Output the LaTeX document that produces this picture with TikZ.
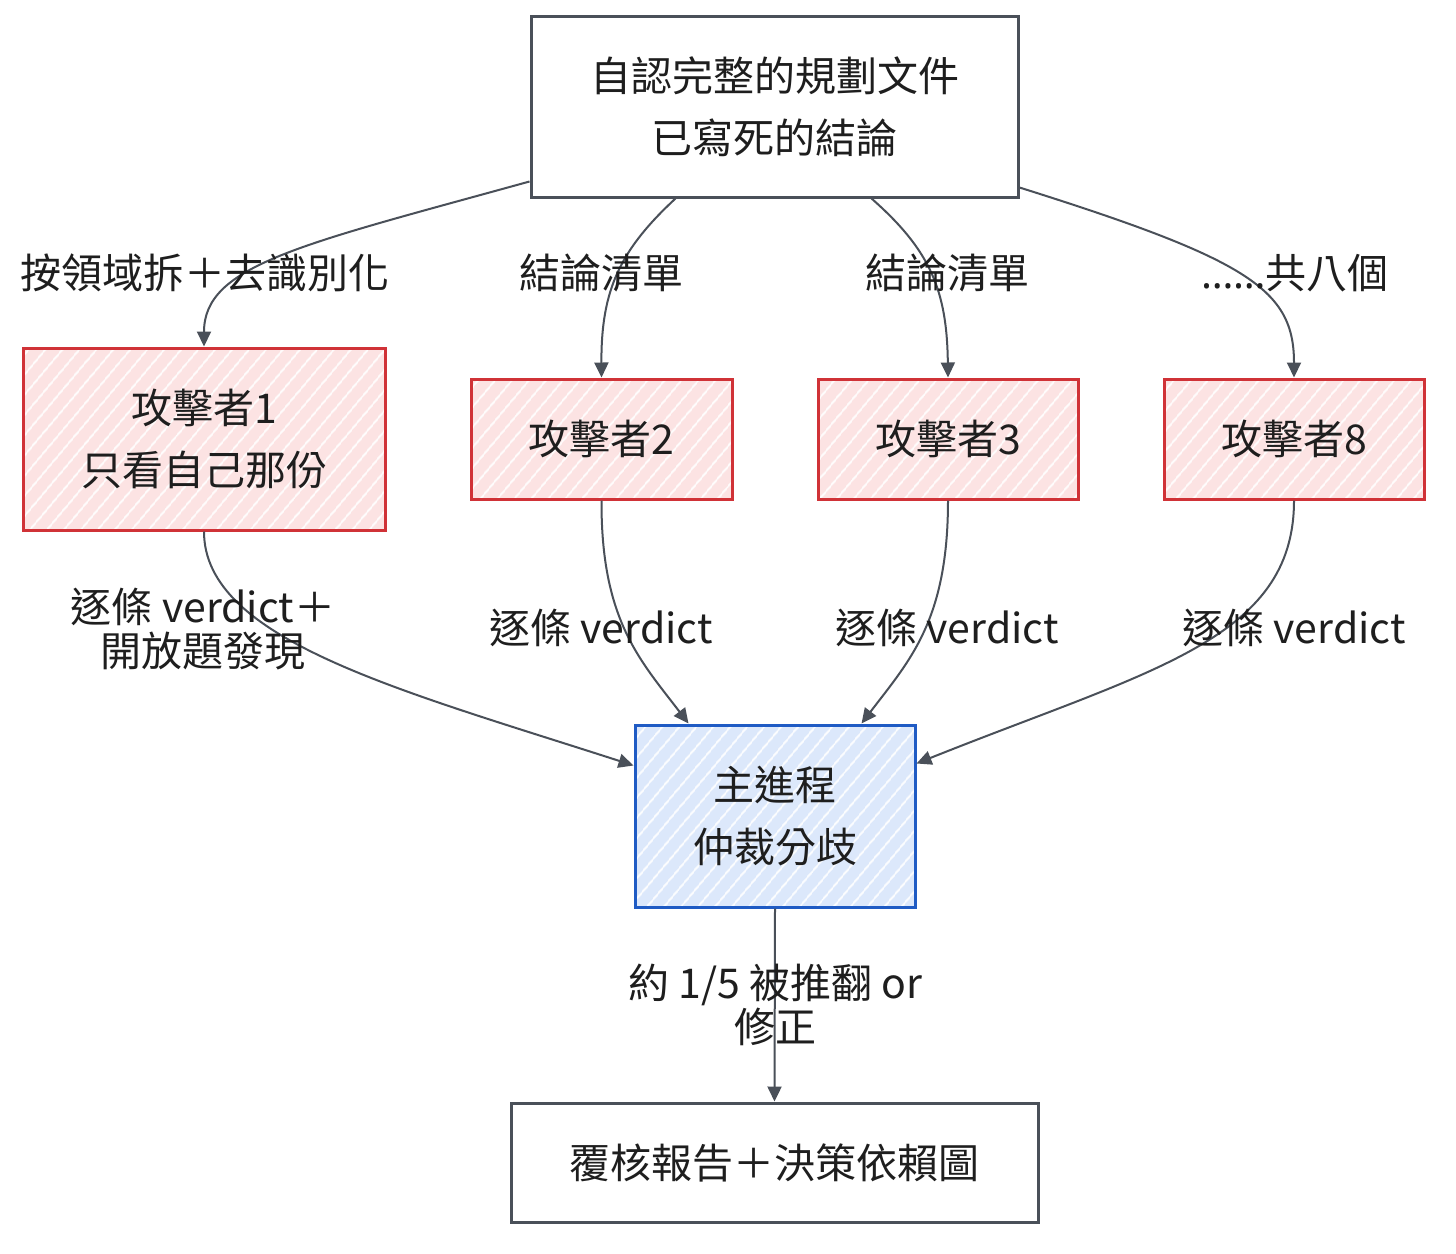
\documentclass[tikz,border=0pt]{standalone}
\usepackage{fontspec}
\setmainfont{Noto Sans CJK TC}
\newfontfamily\latfont{Noto Sans}
\usetikzlibrary{arrows.meta,patterns.meta}
\definecolor{ink}{HTML}{1E1E1E}
\definecolor{edgec}{HTML}{4A5059}
\definecolor{redb}{HTML}{D03237}
\definecolor{redf}{HTML}{FCE3E3}
\definecolor{blueb}{HTML}{1F5BC4}
\definecolor{bluef}{HTML}{DCE8FB}
\tikzset{
  base/.style={draw, line width=1.5pt, align=center, text=ink, font=\fontsize{20.5}{31}\selectfont, inner sep=0pt},
  plainbox/.style={base, draw=edgec, fill=white},
  attbox/.style={base, draw=redb, preaction={fill=redf}, preaction={pattern={Lines[angle=50,distance=6.5pt,line width=0.8pt]}, pattern color=white}},
  mainbox/.style={base, draw=blueb, preaction={fill=bluef}, preaction={pattern={Lines[angle=50,distance=6.5pt,line width=0.8pt]}, pattern color=white}},
  conn/.style={draw=edgec, line width=1pt, -{Triangle[length=7.5pt,width=7pt]}},
  lbl/.style={text=ink, align=center, font=\fontsize{20.5}{22}\selectfont, inner sep=0pt}
}
\begin{document}
\begin{tikzpicture}[x=0.5pt,y=-0.5pt]
\useasboundingbox[fill=white] (0,0) rectangle (1456,1253);
% nodes
\node[plainbox, minimum width=243.5pt, minimum height=90.5pt] (top) at (774.5,106.5) {自認完整的規劃文件\\已寫死的結論};
\node[attbox, minimum width=181pt, minimum height=91pt] (a1) at (204,439) {攻擊者1\\只看自己那份};
\node[attbox, minimum width=130.5pt, minimum height=60pt] (a2) at (601.5,439) {攻擊者2};
\node[attbox, minimum width=130pt, minimum height=60pt] (a3) at (948,439) {攻擊者3};
\node[attbox, minimum width=130pt, minimum height=60pt] (a8) at (1294,439) {攻擊者8};
\node[mainbox, minimum width=140pt, minimum height=91pt] (main) at (775,816) {主進程\\仲裁分歧};
\node[plainbox, minimum width=263.5pt, minimum height=59.5pt] (bot) at (774.5,1162.5) {覆核報告＋決策依賴圖};
% connector end coordinates
\coordinate (t1) at ([yshift=8.5pt]top.south west);
\coordinate (t2) at ([xshift=73pt]top.south west);
\coordinate (t3) at ([xshift=-74pt]top.south east);
\coordinate (t4) at ([yshift=5.5pt]top.south east);
\coordinate (m1) at ([yshift=-21pt]main.north west);
\coordinate (m2) at ([xshift=27.5pt]main.north west);
\coordinate (m3) at ([xshift=-27.5pt]main.north east);
\coordinate (m4) at ([yshift=-20pt]main.north east);
% connectors
\draw[conn] (t1) .. controls (300,245) and (204,265) .. (a1.north);
\draw[conn] (t2) .. controls (620,250) and (601,290) .. (a2.north);
\draw[conn] (t3) .. controls (930,250) and (947,290) .. (a3.north);
\draw[conn] (t4) .. controls (1250,260) and (1294,290) .. (a8.north);
\draw[conn] (a1.south) .. controls (204,640) and (400,690) .. (m1);
\draw[conn] (a2.south) .. controls (601,620) and (640,660) .. (m2);
\draw[conn] (a3.south) .. controls (948,620) and (910,660) .. (m3);
\draw[conn] (a8.south) .. controls (1294,640) and (1150,670) .. (m4);
\draw[conn] (main.south) -- (bot.north);
% labels
\node[lbl] (l1) at (205,273) {按領域拆＋去識別化};
\node[lbl] (l2) at (601,273) {結論清單};
\node[lbl] (l3) at (947,273) {結論清單};
\node[lbl] (l4) at (1295,273) {{\latfont ……}共八個};
\node[lbl] (l5) at (203,629) {逐條 verdict＋\\開放題發現};
\node[lbl] (l6) at (601,628) {逐條 verdict};
\node[lbl] (l7) at (947,628) {逐條 verdict};
\node[lbl] (l8) at (1294,628) {逐條 verdict};
\node[lbl] (l9) at (775,1005) {約 1/5 被推翻 or\\修正};
\end{tikzpicture}
\end{document}
